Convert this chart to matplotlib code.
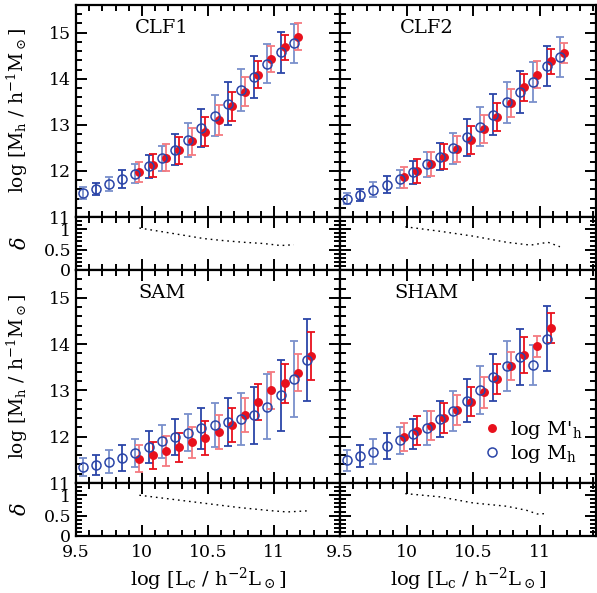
import numpy as np
import matplotlib
matplotlib.use("Agg")
import matplotlib.pyplot as plt
from matplotlib.ticker import MultipleLocator

plt.rcParams['font.family'] = ['DejaVu Serif']
plt.rcParams['mathtext.fontset'] = 'dejavuserif'

# luminosity bins
lc_blue = [9.55, 9.65, 9.75, 9.85, 9.95, 10.05, 10.15, 10.25, 10.35, 10.45,
           10.55, 10.65, 10.75, 10.85, 10.95, 11.05, 11.15, 11.25]
lc_red = [9.98, 10.08, 10.18, 10.28, 10.38, 10.48, 10.58, 10.68, 10.78,
          10.88, 10.98, 11.08, 11.18, 11.28]

# CLF1
clf1_mh = [11.53, 11.61, 11.71, 11.83, 11.94, 12.10, 12.27, 12.46, 12.68,
           12.93, 13.20, 13.46, 13.75, 14.04, 14.33, 14.57, 14.77]
clf1_mh_err = [0.13, 0.13, 0.15, 0.20, 0.21, 0.25, 0.28, 0.34, 0.37,
               0.41, 0.45, 0.46, 0.46, 0.45, 0.43, 0.44, 0.42]
clf1_mp = [11.98, 12.12, 12.29, 12.45, 12.64, 12.85, 13.11, 13.40, 13.72,
           14.09, 14.43, 14.68, 14.91]
clf1_mp_err = [0.22, 0.25, 0.30, 0.29, 0.30, 0.31, 0.32, 0.31, 0.31,
               0.30, 0.28, 0.27, 0.29]
clf1_delta = [1.03, 0.93, 0.85, 0.77, 0.72, 0.68, 0.65, 0.62, 0.60, 0.62]
clf1_delta_x = [9.98, 10.17, 10.32, 10.47, 10.62, 10.77, 10.92, 11.0, 11.05, 11.15]

# CLF2
clf2_mh = [11.40, 11.48, 11.59, 11.70, 11.83, 11.97, 12.14, 12.31, 12.49,
           12.73, 12.96, 13.22, 13.49, 13.71, 13.93, 14.28, 14.47]
clf2_mh_err = [0.12, 0.13, 0.16, 0.18, 0.20, 0.25, 0.27, 0.30, 0.34,
               0.40, 0.42, 0.44, 0.44, 0.45, 0.43, 0.43, 0.43]
clf2_mp = [11.86, 12.00, 12.15, 12.31, 12.48, 12.67, 12.91, 13.17, 13.47,
           13.81, 14.09, 14.38, 14.56]
clf2_mp_err = [0.23, 0.26, 0.26, 0.27, 0.28, 0.31, 0.30, 0.31, 0.30,
               0.29, 0.29, 0.27, 0.22]
clf2_delta = [1.06, 0.95, 0.83, 0.68, 0.61, 0.68, 0.57]
clf2_delta_x = [9.99, 10.25, 10.5, 10.75, 10.93, 11.06, 11.15]

# SAM
sam_mh = [11.34, 11.39, 11.46, 11.54, 11.65, 11.78, 11.90, 11.99, 12.09,
          12.18, 12.25, 12.32, 12.38, 12.46, 12.65, 12.89, 13.25, 13.66]
sam_mh_err = [0.19, 0.22, 0.25, 0.28, 0.31, 0.34, 0.35, 0.39, 0.40,
              0.44, 0.48, 0.52, 0.57, 0.62, 0.70, 0.76, 0.82, 0.89]
sam_mp = [11.52, 11.60, 11.69, 11.77, 11.88, 11.97, 12.10, 12.25, 12.47,
          12.75, 13.00, 13.15, 13.38, 13.75]
sam_mp_err = [0.29, 0.29, 0.32, 0.32, 0.34, 0.37, 0.36, 0.37, 0.37,
              0.39, 0.40, 0.42, 0.40, 0.52]
sam_delta = [1.0, 0.9, 0.8, 0.7, 0.62, 0.59, 0.62]
sam_delta_x = [9.98, 10.23, 10.48, 10.73, 10.98, 11.1, 11.27]

# SHAM
sham_mh = [11.49, 11.58, 11.68, 11.80, 11.92, 12.06, 12.19, 12.38, 12.55,
           12.78, 13.01, 13.28, 13.52, 13.72, 13.55, 14.12]
sham_mh_err = [0.23, 0.24, 0.28, 0.28, 0.30, 0.32, 0.36, 0.39, 0.43,
               0.47, 0.51, 0.51, 0.54, 0.61, 0.43, 0.70]
sham_mp = [11.99, 12.13, 12.24, 12.40, 12.58, 12.76, 12.96, 13.24, 13.52,
           13.77, 13.95, 14.35]
sham_mp_err = [0.30, 0.32, 0.32, 0.33, 0.33, 0.31, 0.33, 0.32, 0.30,
               0.39, 0.23, 0.32]
sham_delta = [1.04, 0.96, 0.81, 0.73, 0.63, 0.54, 0.55]
sham_delta_x = [9.99, 10.25, 10.5, 10.75, 10.9, 10.98, 11.05]

panels = [
    ("CLF1", clf1_mh, clf1_mh_err, clf1_mp, clf1_mp_err, clf1_delta_x, clf1_delta),
    ("CLF2", clf2_mh, clf2_mh_err, clf2_mp, clf2_mp_err, clf2_delta_x, clf2_delta),
    ("SAM", sam_mh, sam_mh_err, sam_mp, sam_mp_err, sam_delta_x, sam_delta),
    ("SHAM", sham_mh, sham_mh_err, sham_mp, sham_mp_err, sham_delta_x, sham_delta),
]

W, H = 597, 593
fig = plt.figure(figsize=(W / 100, H / 100), dpi=100)

def px_axes(x0, y0, x1, y1):
    return fig.add_axes([x0 / W, 1 - y1 / H, (x1 - x0) / W, (y1 - y0) / H])

blue_d, blue_l = '#2b45a8', '#7a90cc'
red_d, red_l = '#e8101c', '#f47a80'

def style(ax, ymaj, ymin):
    ax.xaxis.set_major_locator(MultipleLocator(0.5))
    ax.xaxis.set_minor_locator(MultipleLocator(0.1))
    ax.yaxis.set_major_locator(MultipleLocator(ymaj))
    ax.yaxis.set_minor_locator(MultipleLocator(ymin))
    ax.tick_params(which='both', direction='in', top=True, right=True,
                   labelsize=12.5, width=1.4)
    ax.tick_params(which='major', length=8)
    ax.tick_params(which='minor', length=4)
    ax.tick_params(axis='x', pad=6)
    for s in ax.spines.values():
        s.set_linewidth(1.6)

cols = [(76, 340, 11.5), (340, 596, 9.5 + 256 / 133.3)]
rows = [(5, 217, 270), (270, 483, 536)]

for i, (name, mh, mh_err, mp, mp_err, dx, dy) in enumerate(panels):
    r, c = divmod(i, 2)
    x0, x1, xmax = cols[c]
    ytop, ymid, ybot = rows[r]
    ax = px_axes(x0, ytop, x1, ymid)
    axd = px_axes(x0, ymid, x1, ybot)

    xb = lc_blue[:len(mh)]
    xr = lc_red[:len(mp)]
    for k in range(len(mh)):
        ax.errorbar(xb[k], mh[k], yerr=mh_err[k], fmt='none',
                    ecolor=blue_d if k % 2 else blue_l, elinewidth=1.3,
                    capsize=3, capthick=1.3)
    for k in range(len(mp)):
        ax.errorbar(xr[k], mp[k], yerr=mp_err[k], fmt='none',
                    ecolor=red_d if k % 2 else red_l, elinewidth=1.3,
                    capsize=3, capthick=1.3)
    ax.plot(xr, mp, 'o', color=red_d, ms=5.4, mec=red_d, label="log M'$_{\\rm h}$")
    ax.plot(xb, mh, 'o', mfc='none', mec=blue_d, mew=1.1, ms=6.5,
            label="log M$_{\\rm h}$")

    ax.set_xlim(9.5, xmax)
    ax.set_ylim(11, 15.6)
    style(ax, 1, 0.2)
    ax.tick_params(labelbottom=False)
    ax.text(10.15, 15.1, name, ha='center', va='center', fontsize=14)

    axd.plot(dx, dy, color='k', lw=1.0, linestyle=(0, (1.2, 2.8)))
    axd.set_xlim(9.5, xmax)
    axd.set_ylim(0, 1.3)
    style(axd, 0.5, 0.1)
    axd.set_yticks([0, 0.5, 1])
    axd.set_yticklabels(['0', '0.5', '1'])
    axd.set_xticks([9.5, 10, 10.5, 11])
    axd.set_xticklabels(['9.5', '10', '10.5', '11'])
    if r == 0:
        axd.tick_params(labelbottom=False)
    else:
        axd.set_xlabel('log [L$_{\\rm c}$ / h$^{-2}$L$_\\odot$]', fontsize=14, labelpad=3)
    if c == 0:
        ax.set_ylabel('log [M$_{\\rm h}$ / h$^{-1}$M$_\\odot$]', fontsize=13.5)
        axd.set_ylabel('$\\delta$', fontsize=15)
        ax.yaxis.set_label_coords(-0.175, 0.5)
        axd.yaxis.set_label_coords(-0.175, 0.5)
    else:
        ax.tick_params(labelleft=False)
        axd.tick_params(labelleft=False)
    if name == "SHAM":
        ax.legend(loc='lower right', frameon=False, fontsize=14, handlelength=0.8,
                  handletextpad=0.5, borderaxespad=0.3, labelspacing=0.1,
                  bbox_to_anchor=(1.0, 0.02))

fig.savefig('out.png', dpi=100)
